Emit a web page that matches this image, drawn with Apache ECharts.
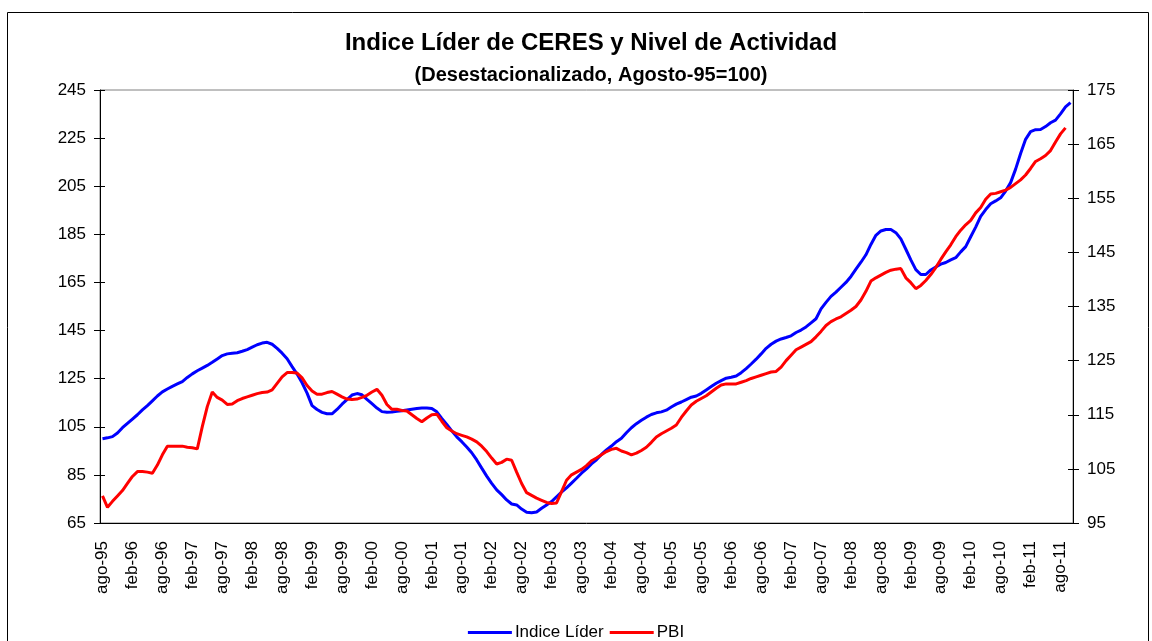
<!DOCTYPE html>
<html>
<head>
<meta charset="utf-8">
<script src="https://cdn.jsdelivr.net/npm/echarts@6/dist/echarts.min.js"></script>
<style>
html,body{margin:0;padding:0;background:#fff;}
#chart{width:1152px;height:641px;}
</style>
</head>
<body>
<div id="chart"></div>
<script>
// Month names (Spanish) and year span used to label the monthly categories
const monthNames = ['ene','feb','mar','abr','may','jun','jul','ago','sep','oct','nov','dic'];
const startYear = 1995, startMonth = 7; // ago-95
const nMonths = 195;                     // ago-95 .. oct-11

// Indice Líder de CERES (left axis)
const indiceLider = [
100.0,100.4,100.9,102.4,104.6,106.4,108.2,110.0,112.0,113.8,115.8,117.8,
119.5,120.7,121.8,122.8,123.8,125.5,127.0,128.3,129.4,130.5,131.8,133.2,
134.6,135.3,135.6,135.8,136.4,137.1,138.1,139.1,139.8,140.1,139.3,137.6,
135.6,133.3,130.0,126.9,123.3,119.0,113.8,112.2,111.0,110.4,110.4,112.2,
114.4,116.3,118.2,118.8,118.3,116.4,114.6,112.8,111.3,111.0,111.1,111.4,
111.7,112.0,112.3,112.6,112.8,112.8,112.6,111.2,108.5,106.0,103.3,100.8,
98.8,96.6,94.2,91.2,87.8,84.5,81.5,78.8,76.8,74.6,72.9,72.5,
70.8,69.5,69.3,69.6,71.1,72.5,73.9,75.9,77.9,79.6,81.6,83.6,
85.7,87.5,89.6,91.3,93.5,95.4,97.0,98.8,100.2,102.5,104.6,106.3,
107.7,109.0,110.1,110.8,111.2,111.9,113.2,114.4,115.3,116.3,117.3,117.8,
118.9,120.3,121.7,123.1,124.2,125.2,125.6,126.1,127.5,129.2,131.1,133.1,
135.3,137.6,139.3,140.6,141.5,142.1,142.8,144.2,145.2,146.5,148.2,149.9,
154.0,156.7,159.2,161.0,163.0,165.0,167.5,170.5,173.4,176.5,180.8,184.6,
186.4,187.0,187.0,185.7,183.1,178.8,174.4,170.3,168.3,168.3,170.2,171.4,
172.6,173.3,174.4,175.3,177.7,179.9,184.0,188.0,192.5,195.3,197.7,198.9,
200.2,203.0,206.5,212.1,218.6,224.5,227.7,228.5,228.6,229.8,231.4,232.5,
235.1,238.0,239.8
];

// PBI (right axis)
const pbi = [
100.0,97.9,99.0,100.0,101.0,102.3,103.6,104.5,104.5,104.4,104.2,105.7,
107.6,109.2,109.2,109.2,109.2,109.0,108.9,108.7,112.8,116.5,119.2,118.2,
117.7,116.9,117.0,117.6,118.0,118.3,118.6,118.9,119.1,119.2,119.6,120.8,
122.0,122.8,122.8,122.7,121.8,120.4,119.4,118.8,118.8,119.1,119.3,118.8,
118.3,117.9,117.8,117.9,118.2,118.6,119.2,119.7,118.6,116.9,116.0,116.0,
115.8,115.7,115.0,114.3,113.7,114.4,115.0,115.1,113.8,112.6,112.0,111.5,
111.2,110.9,110.5,110.0,109.2,108.2,107.0,105.9,106.2,106.8,106.6,104.4,
102.3,100.6,100.1,99.6,99.2,98.8,98.6,98.7,100.8,102.9,103.9,104.4,
104.9,105.6,106.5,107.0,107.6,108.2,108.6,108.8,108.3,108.0,107.6,107.9,
108.4,109.0,109.9,110.9,111.5,112.0,112.5,113.1,114.5,115.7,116.8,117.5,
118.0,118.5,119.2,119.9,120.5,120.7,120.7,120.7,121.0,121.3,121.7,122.0,
122.3,122.6,122.9,123.0,123.8,125.0,126.0,127.0,127.5,128.0,128.5,129.4,
130.4,131.5,132.2,132.7,133.1,133.7,134.3,135.0,136.2,137.8,139.7,140.3,
140.8,141.3,141.7,141.9,142.0,140.3,139.4,138.3,138.9,139.8,140.9,142.2,
143.7,145.1,146.4,147.9,149.1,150.1,150.9,152.3,153.3,154.8,155.8,155.9,
156.2,156.5,157.0,157.7,158.4,159.3,160.5,161.8,162.3,162.9,163.8,165.4,
166.9,168.0
];

// Axis tick settings
const leftTicks = {min: 65, max: 245, interval: 20};
const rightTicks = {min: 95, max: 175, interval: 10};

const categories = [];
for (let k = 0; k < nMonths; k++) {
  const m = (startMonth + k) % 12;
  const y = startYear + Math.floor((startMonth + k) / 12);
  categories.push(monthNames[m] + '-' + String(y % 100).padStart(2, '0'));
}

const FONT = '"Liberation Sans", Arial, sans-serif';
const chart = echarts.init(document.getElementById('chart'), null, {renderer: 'canvas'});

const yBase = (pos, t, showLabel, inside) => ({
  type: 'value', position: pos, min: t.min, max: t.max, interval: t.interval,
  alignTicks: false,
  axisLine: {show: showLabel, lineStyle: {color: '#000', width: 1}},
  axisTick: {show: true, inside: inside, length: inside ? 5 : 6, lineStyle: {color: '#000'}},
  axisLabel: {show: showLabel, color: '#000', fontSize: 17, fontFamily: FONT, margin: 14},
  splitLine: {show: false}
});

chart.setOption({
  animation: false,
  backgroundColor: '#fff',
  title: [
    {text: 'Indice Líder de CERES y Nivel de Actividad', left: 586, top: 26, textAlign: 'center',
     textStyle: {fontSize: 24, fontWeight: 'bold', color: '#000', fontFamily: FONT}},
    {text: '(Desestacionalizado, Agosto-95=100)', left: 586, top: 60, textAlign: 'center',
     textStyle: {fontSize: 20, fontWeight: 'bold', color: '#000', fontFamily: FONT}}
  ],
  graphic: [{
    type: 'rect', left: 5, top: 10, silent: true,
    shape: {x: 0, y: 0, width: 1141, height: 700},
    style: {fill: 'none', stroke: '#000', lineWidth: 1}
  }],
  legend: {
    top: 619, left: 'center', itemWidth: 44, itemHeight: 3, itemGap: 6, icon: 'rect',
    textStyle: {fontSize: 17, color: '#000', fontFamily: FONT, padding: [0, 0, 0, -2]},
    data: ['Indice Líder', 'PBI']
  },
  grid: {left: 100, right: 79, top: 90, bottom: 118, show: true, borderColor: '#808080', borderWidth: 1, backgroundColor: 'transparent'},
  xAxis: {
    type: 'category', data: categories, boundaryGap: true,
    axisLine: {lineStyle: {color: '#000', width: 1}},
    axisTick: {show: false},
    axisLabel: {interval: 5, rotate: 90, color: '#000', fontSize: 17, fontFamily: FONT, margin: 18}
  },
  yAxis: [
    yBase('left', leftTicks, true, false),
    yBase('right', rightTicks, true, false),
    yBase('left', leftTicks, false, true),
    yBase('right', rightTicks, false, true)
  ],
  series: [
    {name: 'Indice Líder', type: 'line', data: indiceLider, yAxisIndex: 0, symbol: 'none',
     lineStyle: {color: '#0000FF', width: 3}, itemStyle: {color: '#0000FF'}},
    {name: 'PBI', type: 'line', data: pbi, yAxisIndex: 1, symbol: 'none',
     lineStyle: {color: '#FF0000', width: 3}, itemStyle: {color: '#FF0000'}}
  ]
});
</script>
</body>
</html>
